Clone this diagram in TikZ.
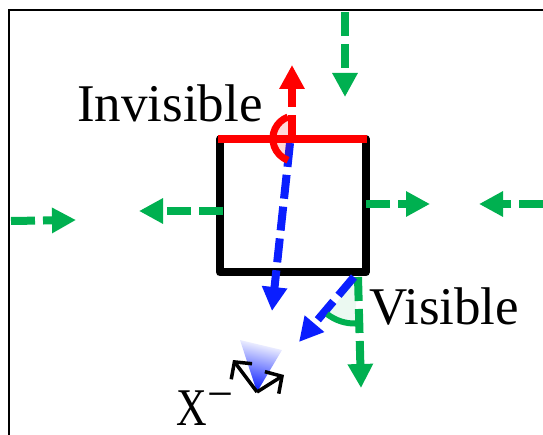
\documentclass[tikz,border=0pt]{standalone}
\usepackage{fontspec}
\setmainfont{Liberation Serif}
\usetikzlibrary{positioning,arrows.meta}
\definecolor{raygreen}{RGB}{0,176,80}
\definecolor{rayblue}{RGB}{10,30,255}
\tikzset{
    ray/.style={line width=8pt, dash pattern=on 24pt off 8pt, -{Triangle[length=24pt,width=24pt]}},
    axis/.style={line width=3.5pt, line join=miter, -{Straight Barb[length=12pt,width=26pt,line width=3.5pt]}},
    label/.style={inner sep=0pt, font=\fontsize{53}{60}\selectfont, anchor=base west},
}

\begin{document}
\begin{tikzpicture}[x=1pt, y=-1pt]
    \useasboundingbox (0,0) rectangle (543,435);

    % Open frame around the scene
    \draw[line width=2.5pt] (9,435) -- (9,10) -- (543,10);

    % The square and its lit top edge
    \node[draw, line width=8pt, line join=round, inner sep=0pt, outer sep=0pt,
        minimum width=145.5pt, minimum height=133.5pt] (box) at (292.75,205.75) {};

    % End points of the rays
    \coordinate (topin) at (345,12);
    \coordinate (topend) at (345,97);
    \coordinate (leftin) at (11,221);
    \coordinate (leftend) at (76,220);
    \coordinate (leftout) at (223,211);
    \coordinate (leftoutend) at (139,211);
    \coordinate (rightout) at (366,204);
    \coordinate (rightoutend) at (430,204);
    \coordinate (rightin) at (543,204);
    \coordinate (rightend) at (479,204);
    \coordinate (downout) at (358,277);
    \coordinate (downend) at (361,388);
    \coordinate (hit) at (292,139);
    \coordinate (up) at (292,65);
    \coordinate (pass) at (290,143);
    \coordinate (passend) at (272,311);
    \coordinate (slant) at (354,277);
    \coordinate (slantend) at (299,342);
    \coordinate (eye) at (257,392);

    % Green rays
    \draw[ray, raygreen] (topin) -- (topend);
    \draw[ray, raygreen] (leftin) -- (leftend);
    \draw[ray, raygreen] (leftout) -- (leftoutend);
    \draw[ray, raygreen] (rightout) -- (rightoutend);
    \draw[ray, raygreen] (rightin) -- (rightend);
    \draw[ray, raygreen] (downout) -- (downend);

    % Blue rays
    \draw[ray, rayblue] (pass) -- (passend);
    \draw[ray, rayblue] (slant) -- (slantend);

    % Angle of the visible ray
    \fill[raygreen, opacity=0.08] (356,278) -- (327,315) arc[start angle=232, end angle=272, radius=45pt] -- cycle;
    \draw[raygreen, line width=6pt] (327,314) arc[start angle=232, end angle=272, radius=45pt];

    % Top edge and red ray
    \draw[red, line width=8pt] (box.north west) ++(-2,0) -- ([xshift=1pt]box.north east);
    \draw[ray, red] (hit) -- (up);

    % Angle of the invisible ray
    \fill[red, opacity=0.15] (292,140) -- (288,117) arc[start angle=110, end angle=250, radius=23pt] -- cycle;
    \draw[red, line width=7pt] (288,117) arc[start angle=110, end angle=250, radius=23pt];

    % Viewing cone and camera axes
    \shade[top color=white, middle color=rayblue!25, bottom color=rayblue, shading angle=-13] (240,340) -- (282,350) -- (eye) -- cycle;
    \coordinate (axisa) at (233,360);
    \coordinate (axisb) at (284,375);
    \draw[axis] (eye) -- (axisa);
    \draw[axis] (eye) -- (axisb);

    % Labels
    \node[label] (invisible) at (77,122) {Invisible};
    \node[label] (visible) at (369,324) {Visible};
    \node[label] (camera) at (176,425) {\scalebox{0.8}[1]{X}};
    \node[label, font=\fontsize{46}{50}\selectfont] (minus) at (207,409) {−};
\end{tikzpicture}
\end{document}
